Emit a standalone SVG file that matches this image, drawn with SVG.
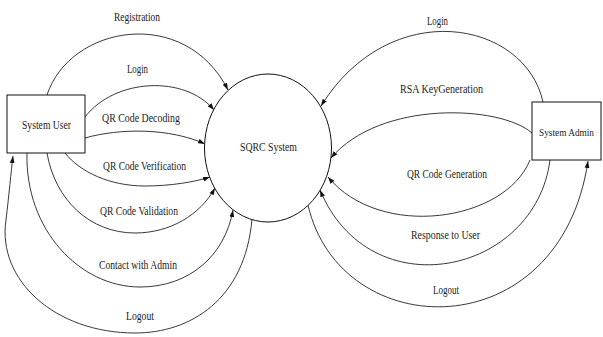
<svg xmlns="http://www.w3.org/2000/svg" width="603" height="337" viewBox="0 0 603 337">
<style>
  text { font-family: "Liberation Serif", "Times New Roman", serif; font-size: 12.5px; fill: #222; }
  .node { fill: #fff; stroke: #111; stroke-width: 1; }
  .flow { fill: none; stroke: #222; stroke-width: 0.9; marker-end: url(#ah); }
</style>
<defs>
  <marker id="ah" markerUnits="userSpaceOnUse" markerWidth="8" markerHeight="6" refX="7" refY="3" orient="auto">
    <path d="M0,0.6 L7,3 L0,5.4 Z" fill="#111"/>
  </marker>
</defs>
<rect width="603" height="337" fill="#fff"/>

<g id="connectors">
  <!-- left: System User -> SQRC -->
  <path class="flow" d="M47,95 C70,25 185,5 228,90"/>
  <path class="flow" d="M85,117 C115,78 185,75 214,110"/>
  <path class="flow" d="M85,138 C120,128 170,128 205,144"/>
  <path class="flow" d="M65,153 C80,172 110,186 145,186 C170,186 195,182 210,177"/>
  <path class="flow" d="M47,153 C55,200 90,233 135,233 C170,233 200,215 215,188"/>
  <path class="flow" d="M27,153 C25,230 80,287 140,287 C190,287 225,255 233,210"/>
  <path class="flow" d="M252,219 C245,300 190,333 135,333 C55,333 -3,280 6,220 C9,195 11,172 13,156"/>
  <!-- right: System Admin -> SQRC -->
  <path class="flow" d="M543,102 C525,20 390,-5 321,106"/>
  <path class="flow" d="M532,133 C500,105 380,100 331,158"/>
  <path class="flow" d="M530,160 C505,222 380,240 328,177"/>
  <path class="flow" d="M550,160 C535,275 370,310 320,190"/>
  <path class="flow" d="M308,205 C340,345 560,350 588,161"/>
</g>

<g id="labels">
  <text x="114" y="21" textLength="46" lengthAdjust="spacingAndGlyphs">Registration</text>
  <text x="127" y="73" textLength="21" lengthAdjust="spacingAndGlyphs">Login</text>
  <text x="102" y="122" textLength="78" lengthAdjust="spacingAndGlyphs">QR Code Decoding</text>
  <text x="103" y="170" textLength="83" lengthAdjust="spacingAndGlyphs">QR Code Verification</text>
  <text x="100" y="215" textLength="78" lengthAdjust="spacingAndGlyphs">QR Code Validation</text>
  <text x="99" y="269" textLength="78" lengthAdjust="spacingAndGlyphs">Contact with Admin</text>
  <text x="126" y="320" textLength="28" lengthAdjust="spacingAndGlyphs">Logout</text>
  <text x="427" y="25" textLength="21" lengthAdjust="spacingAndGlyphs">Login</text>
  <text x="400" y="93" textLength="83" lengthAdjust="spacingAndGlyphs">RSA KeyGeneration</text>
  <text x="407" y="178" textLength="80" lengthAdjust="spacingAndGlyphs">QR Code Generation</text>
  <text x="411" y="239" textLength="69" lengthAdjust="spacingAndGlyphs">Response to User</text>
  <text x="433" y="294" textLength="26" lengthAdjust="spacingAndGlyphs">Logout</text>
</g>

<g id="system-user">
  <rect class="node" x="7" y="95" width="78" height="58"/>
  <text x="22" y="129" textLength="49" lengthAdjust="spacingAndGlyphs">System User</text>
</g>

<g id="sqrc-system">
  <ellipse class="node" cx="268" cy="148" rx="63.5" ry="74"/>
  <text x="240" y="151" textLength="57" lengthAdjust="spacingAndGlyphs">SQRC System</text>
</g>

<g id="system-admin">
  <rect class="node" x="532" y="102" width="69" height="58"/>
  <text x="539" y="136" style="font-size:11px" textLength="55" lengthAdjust="spacingAndGlyphs">System Admin</text>
</g>
</svg>
